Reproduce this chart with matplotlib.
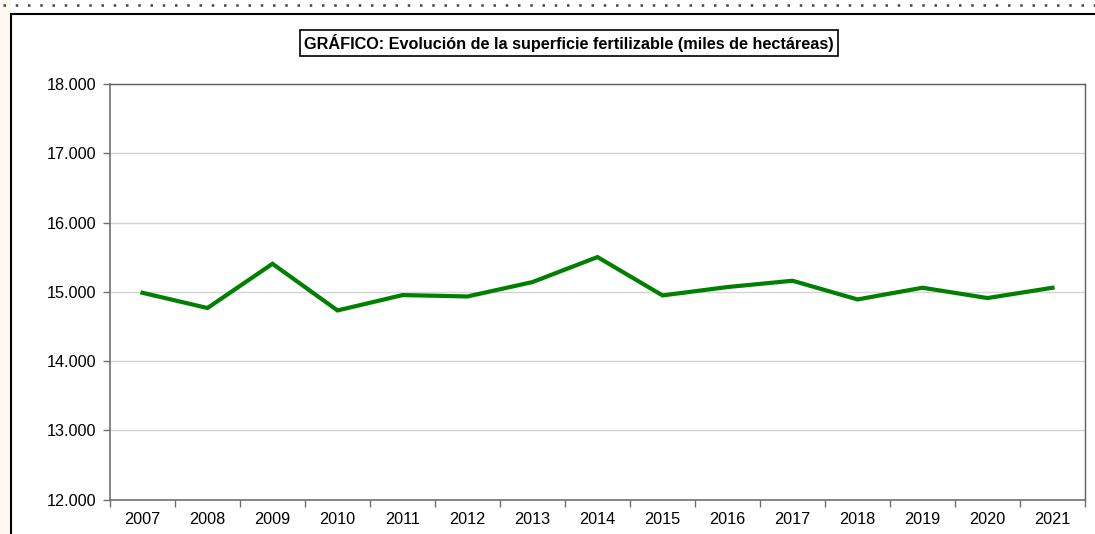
import matplotlib
matplotlib.use("Agg")
import matplotlib.pyplot as plt
from matplotlib.ticker import FuncFormatter, FixedLocator
from matplotlib.patches import Rectangle
from matplotlib.lines import Line2D

years = ["2007", "2008", "2009", "2010", "2011", "2012", "2013", "2014",
         "2015", "2016", "2017", "2018", "2019", "2020", "2021"]
superficie = [14985, 14765, 15404, 14730, 14952, 14932, 15140, 15501,
              14947, 15068, 15159, 14889, 15058, 14909, 15058]
title = "GRÁFICO: Evolución de la superficie fertilizable (miles de hectáreas)"

plt.rcParams['font.family'] = ['Liberation Sans', 'DejaVu Sans']

W, H = 1095, 534
fig = plt.figure(figsize=(W / 100, H / 100), dpi=100)
fig.patch.set_facecolor("white")

def fx(px):
    return px / W

def fy(py):
    return 1 - py / H

# cream strip on the left
fig.patches.append(Rectangle((0, 0), fx(11), 1, transform=fig.transFigure,
                             facecolor="#fdf8f2", edgecolor="none", zorder=0))
# outer frame (left and top)
fig.lines.append(Line2D([fx(11), fx(11)], [0, fy(14)], transform=fig.transFigure,
                        color="black", lw=1.5))
fig.lines.append(Line2D([fx(11), 1], [fy(14), fy(14)], transform=fig.transFigure,
                        color="black", lw=1.5))
# dotted line at top
fig.lines.append(Line2D([fx(3), 1], [fy(5), fy(5)], transform=fig.transFigure,
                        color="#444444", lw=1.8, linestyle=(0, (1.0, 3.9))))

left, right, top, bottom = 110, 1085, 84, 499.5
ax = fig.add_axes([fx(left), fy(bottom), fx(right - left), (bottom - top) / H])

x = list(range(len(years)))
ax.plot(x, superficie, color="#008000", lw=3.0, solid_joinstyle="miter", zorder=3)

ax.set_xlim(-0.5, len(years) - 0.5)
ax.set_ylim(12000, 18000)
ax.set_yticks(range(12000, 18001, 1000))
ax.yaxis.set_major_formatter(FuncFormatter(lambda v, p: f"{int(v):,}".replace(",", ".")))
ax.grid(axis="y", color="#d4d4d4", lw=1.0)
ax.set_axisbelow(True)

ax.set_xticks(x)
ax.set_xticklabels(years)
ax.xaxis.set_minor_locator(FixedLocator([i + 0.5 for i in range(-1, len(years))]))
ax.tick_params(axis="x", which="major", length=0, pad=9, labelsize=11.7, colors="black")
ax.tick_params(axis="x", which="minor", length=5, width=1, color="#707070", direction="out")
ax.tick_params(axis="y", length=5, width=1, color="#707070", pad=5, labelsize=11.7,
               labelcolor="black")

for s in ["left", "bottom"]:
    ax.spines[s].set_color("#707070")
    ax.spines[s].set_linewidth(1.2)
for s in ["right", "top"]:
    ax.spines[s].set_color("#606060")
    ax.spines[s].set_linewidth(1.0)

fig.text(fx(569), fy(43), title, ha="center", va="center", fontsize=11.7,
         fontweight="bold",
         bbox=dict(boxstyle="square,pad=0.25", facecolor="white", edgecolor="black", lw=1.2))

fig.savefig("out.png", dpi=100)
